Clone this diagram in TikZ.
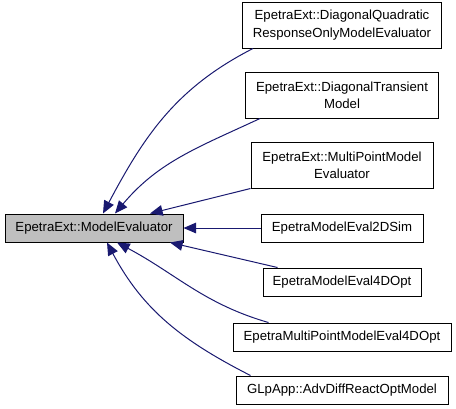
\documentclass[tikz,border=0pt]{standalone}
\usepackage{fontspec}
\setmainfont{Liberation Sans}
\usetikzlibrary{arrows.meta, positioning}
\definecolor{edgeblue}{HTML}{191970}
\definecolor{basegray}{HTML}{BFBFBF}

\begin{document}
\begin{tikzpicture}[
  cls/.style={draw, line width=0.75pt, minimum height=21pt, align=center, inner sep=2pt,
    font=\fontsize{9.9}{13}\selectfont},
  tall/.style={cls, minimum height=34.5pt},
  inh/.style={{Triangle[length=9.5pt,width=8pt]}-, draw=edgeblue, line width=0.75pt},
  node distance=18pt
]
\useasboundingbox (0,0) rectangle (342pt,-306pt);

\node[cls, fill=basegray, minimum width=133.5pt] (base) at (70.5pt,-171pt) {EpetraExt::ModelEvaluator};

\node[cls, minimum width=121.5pt, right=57.75pt of base] (sim) {EpetraModelEval2DSim};

\node[tall, minimum width=136.5pt, above=18.75pt of sim] (multi) {EpetraExt::MultiPointModel\\Evaluator};
\node[tall, minimum width=144.75pt, above=17.25pt of multi] (trans) {EpetraExt::DiagonalTransient\\Model};
\node[tall, minimum width=149.25pt, above=17.25pt of trans] (quad) {EpetraExt::DiagonalQuadratic\\ResponseOnlyModelEvaluator};

\node[cls, minimum width=118.5pt, below=18.75pt of sim] (opt) {EpetraModelEval4DOpt};
\node[cls, minimum width=163.5pt, below=19.5pt of opt] (multiopt) {EpetraMultiPointModelEval4DOpt};
\node[cls, minimum width=159pt, below=18pt of multiopt] (glp) {GLpApp::AdvDiffReactOptModel};

\draw[inh] ([xshift=6.75pt]base.north) to[out=62, in=207] ([xshift=8.25pt]quad.south west);
\draw[inh] ([xshift=15.75pt]base.north) to[out=50, in=205] ([xshift=11.25pt]trans.south west);
\draw[inh] ([xshift=42pt]base.north) -- (multi.south west);
\draw[inh] (base.east) -- (sim.west);
\draw[inh] ([xshift=57pt]base.south) -- ([xshift=11.25pt]opt.north west);
\draw[inh] ([xshift=17.25pt]base.south) to[out=-28, in=164] ([xshift=27pt]multiopt.north west);
\draw[inh] ([xshift=9.75pt]base.south) to[out=-62, in=153] ([xshift=11.25pt]glp.north west);
\end{tikzpicture}
\end{document}
